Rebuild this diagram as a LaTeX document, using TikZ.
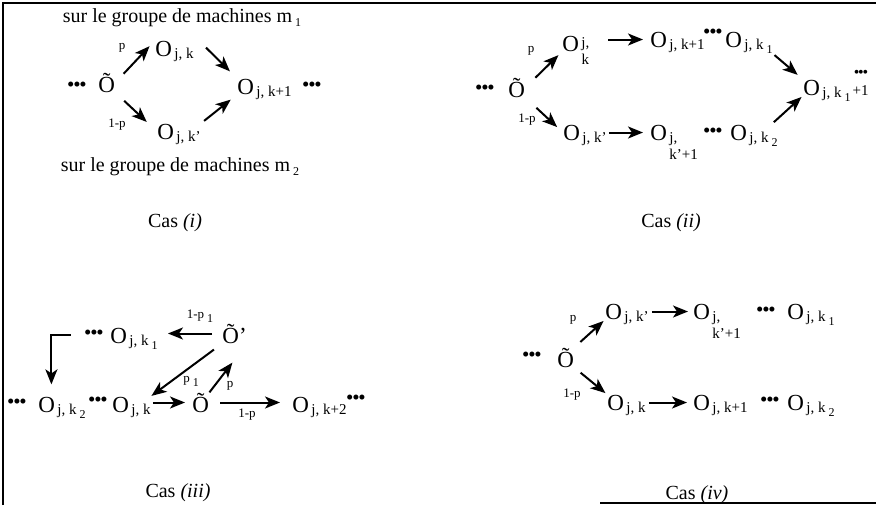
\documentclass[tikz,border=0pt]{standalone}
\usepackage{fontspec}
\setmainfont{Liberation Serif}
\usetikzlibrary{arrows.meta}

\newcommand{\bdots}{\textbullet\kern-0.6pt\textbullet\kern-0.6pt\textbullet}
\newcommand{\low}[1]{\kern1.5pt\raisebox{-2pt}{\fontsize{6}{6}\selectfont #1}}

\begin{document}
\begin{tikzpicture}[x=0.5pt, y=-0.5pt,
  onode/.style={font=\fontsize{11.5}{13}\selectfont, inner sep=0pt, anchor=base west},
  sub/.style={font=\fontsize{7.5}{8}\selectfont, inner sep=0pt, anchor=base west, xshift=0.8pt, yshift=-1.2pt},
  stack/.style={font=\fontsize{7.5}{8.5}\selectfont, inner sep=0pt, align=left, anchor=north west, xshift=0.8pt},
  dots/.style={font=\fontsize{10.5}{11}\selectfont, inner sep=0pt},
  prob/.style={font=\fontsize{6.5}{7}\selectfont, inner sep=0pt},
  capt/.style={font=\fontsize{10}{12}\selectfont, inner sep=0pt},
  arr/.style={line width=1pt, -{Stealth[length=7.5pt,width=6pt,inset=2pt]}},
  frame/.style={line width=0.8pt}
]
  \useasboundingbox (0,0) rectangle (876,505);
  % Frame
  \draw[frame] (3,505) -- (3,3) -- (876,3);
  \draw[frame] (600,503) -- (876,503);

  % Cas (i)
  \node[capt] (m1) at (182,18) {sur le groupe de machines m\low{1}};
  \node[dots] (d1a) at (77,87) {\bdots};
  \node[onode] (t1) at (98,92) {Õ};
  \node[onode] (a1) at (155,56) {O};
  \node[sub] (a1s) at (a1.base east) {j, k};
  \node[onode] (b1) at (157,139) {O};
  \node[sub] (b1s) at (b1.base east) {j, k'};
  \node[onode] (c1) at (237,94) {O};
  \node[sub] (c1s) at (c1.base east) {j, k+1};
  \node[dots] (d1b) at (312,87) {\bdots};
  \node[prob] (p1) at (122,48) {p};
  \node[prob] (q1) at (117,125) {1-p};
  \node[capt] (m2) at (180,167) {sur le groupe de machines m\low{2}};
  \node[capt] (cas1) at (175,223) {Cas \textit{(i)}};
  \draw[arr, shorten <=6pt, shorten >=4pt] (t1.east) -- (a1.north west);
  \draw[arr, shorten <=6pt, shorten >=7pt] (t1.south east) -- (b1.west);
  \draw[arr, shorten >=5pt] ([xshift=6pt]a1s.north east) -- (c1.north west);
  \draw[arr, shorten <=2pt, shorten >=4pt] (b1s.north east |- b1.north) -- (c1.south west);

  % Cas (ii)
  \node[dots] (d2a) at (485,90) {\bdots};
  \node[onode] (t2) at (508,97) {Õ};
  \node[onode] (a2) at (562,51) {O};
  \node[stack, align=center] (a2s) at ([yshift=3pt]a2.east) {j,\\k};
  \node[onode] (b2) at (650,47) {O};
  \node[sub] (b2s) at (b2.base east) {j, k+1};
  \node[dots] (d2b) at (713,34) {\bdots};
  \node[onode] (c2) at (725,47) {O};
  \node[sub] (c2s) at (c2.base east) {j, k\low{1}};
  \node[onode] (e2) at (803,95) {O};
  \node[sub] (e2s) at (e2.base east) {j, k\low{1}\kern1pt\raisebox{1pt}{+1}};
  \node[dots, font=\fontsize{8}{8}\selectfont] (d2d) at (861,74) {\bdots};
  \node[onode] (f2) at (563,140) {O};
  \node[sub] (f2s) at (f2.base east) {j, k'};
  \node[onode] (g2) at (650,140) {O};
  \node[stack] (g2s) at (g2.east) {j,\\k'+1};
  \node[dots] (d2c) at (713,133) {\bdots};
  \node[onode] (h2) at (730,140) {O};
  \node[sub] (h2s) at (h2.base east) {j, k\low{2}};
  \node[prob] (p2) at (531,51) {p};
  \node[prob] (q2) at (527,120) {1-p};
  \node[capt] (cas2) at (671,223) {Cas \textit{(ii)}};
  \draw[arr, shorten <=7pt, shorten >=2.5pt] (t2.east) -- (a2.south west);
  \draw[arr, shorten <=7.5pt, shorten >=4pt] (t2.south east) -- (f2.west);
  \draw[arr, shorten <=14.5pt, shorten >=3.5pt] (a2.east |- b2.west) -- (b2.west);
  \draw[arr, shorten <=1pt, shorten >=3.5pt] (c2s.south east) -- (e2.north west);
  \draw[arr, shorten <=1pt, shorten >=3.5pt] (f2s.east |- g2.west) -- (g2.west);
  \draw[arr, shorten <=7pt, shorten >=1pt] (h2s.north) -- (e2.south west);

  % Cas (iii)
  \node[dots] (d3a) at (94,335) {\bdots};
  \node[onode] (a3) at (110,343) {O};
  \node[sub] (a3s) at (a3.base east) {j, k\low{1}};
  \node[onode] (t3b) at (222,343) {Õ'};
  \node[dots] (d3b) at (17,404) {\bdots};
  \node[onode] (b3p) at (38,412) {O};
  \node[sub] (b3ps) at (b3p.base east) {j, k\low{2}};
  \node[dots] (d3c) at (98,402) {\bdots};
  \node[onode] (b3) at (112,412) {O};
  \node[sub] (b3s) at (b3.base east) {j, k};
  \node[onode] (t3) at (192,412) {Õ};
  \node[onode] (c3) at (292,412) {O};
  \node[sub] (c3s) at (c3.base east) {j, k+2};
  \node[dots] (d3d) at (356,400) {\bdots};
  \node[prob] (q13) at (200,316) {1-p\low{1}};
  \node[prob] (p13) at (191,381) {p\low{1}};
  \node[prob] (p3) at (230,386) {p};
  \node[prob] (q3) at (247,415) {1-p};
  \node[capt] (cas3) at (178,493) {Cas \textit{(iii)}};
  \draw[arr, shorten <=5pt, shorten >=5pt] (t3b.west) -- (t3b.west -| a3s.east);
  \draw[arr, shorten <=5pt, shorten >=6.5pt] (t3b.south west) -- (b3s.north);
  \draw[arr, shorten >=12pt] (t3.north east) -- (t3b.south east);
  \draw[arr, shorten <=1pt, shorten >=3.5pt] (b3s.east |- t3.west) -- (t3.west);
  \draw[arr, shorten <=5.5pt, shorten >=6pt] (t3.east) -- (t3.east -| c3.west);
  \draw[arr, shorten <=6.5pt, shorten >=6pt] (d3a.west) -| (b3p.60);

  % Cas (iv)
  \node[dots] (d4a) at (532,357) {\bdots};
  \node[onode] (t4) at (557,367) {Õ};
  \node[onode] (a4) at (605,319) {O};
  \node[sub] (a4s) at (a4.base east) {j, k'};
  \node[onode] (b4) at (693,319) {O};
  \node[stack] (b4s) at (b4.east) {j,\\k'+1};
  \node[dots] (d4b) at (766,312) {\bdots};
  \node[onode] (c4) at (787,319) {O};
  \node[sub] (c4s) at (c4.base east) {j, k\low{1}};
  \node[onode] (d4) at (607,410) {O};
  \node[sub] (d4s) at (d4.base east) {j, k};
  \node[onode] (e4) at (693,410) {O};
  \node[sub] (e4s) at (e4.base east) {j, k+1};
  \node[dots] (d4c) at (770,402) {\bdots};
  \node[onode] (f4) at (787,410) {O};
  \node[sub] (f4s) at (f4.base east) {j, k\low{2}};
  \node[prob] (p4) at (573,320) {p};
  \node[prob] (q4) at (572,395) {1-p};
  \node[capt] (cas4) at (697,495) {Cas \textit{(iv)}};
  \draw[arr, shorten <=4pt, shorten >=1pt] (t4.north east) -- (a4.south west);
  \draw[arr, shorten <=4pt, shorten >=1pt] (t4.south east) -- (d4.north west);
  \draw[arr, shorten <=1.5pt, shorten >=2.5pt] (a4s.east |- b4.west) -- (b4.west);
  \draw[arr, shorten <=1.5pt, shorten >=3pt] (d4s.east |- e4.west) -- (e4.west);
\end{tikzpicture}
\end{document}
